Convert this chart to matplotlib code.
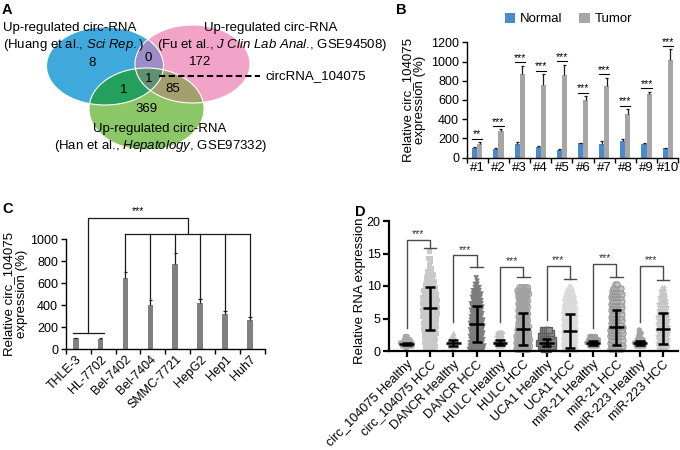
import numpy as np
import matplotlib
matplotlib.use("Agg")
import matplotlib.pyplot as plt
from matplotlib.patches import Ellipse, Polygon

plt.rcParams['font.family'] = ['Liberation Sans', 'DejaVu Sans']
plt.rcParams['mathtext.fontset'] = 'custom'
plt.rcParams['mathtext.rm'] = 'Liberation Sans'
plt.rcParams['mathtext.it'] = 'Liberation Sans:italic'
plt.rcParams['font.size'] = 9

# ---------------- data ----------------
# Panel A : Venn diagram region counts
venn_only = ["8", "172", "369"]        # Huang only, Fu only, Han only
venn_pairs = ["0", "1", "85"]          # Huang&Fu, Huang&Han, Fu&Han
venn_all = "1"

# Panel B : paired tissue samples
b_samples = ["#1", "#2", "#3", "#4", "#5", "#6", "#7", "#8", "#9", "#10"]
b_normal = [100, 94, 142, 111, 83, 149, 146, 177, 146, 97]
b_normal_err = [8, 8, 18, 10, 8, 8, 24, 13, 10, 5]
b_tumor = [146, 277, 870, 756, 863, 603, 745, 454, 665, 1016]
b_tumor_err = [17, 18, 87, 114, 104, 38, 87, 52, 21, 111]
b_sig = ["**", "***", "***", "***", "***", "***", "***", "***", "***", "***"]

# Panel C : cell lines
c_lines = ["THLE-3", "HL-7702", "Bel-7402", "Bel-7404", "SMMC-7721", "HepG2", "Hep1", "Huh7"]
c_values = [100, 95, 651, 405, 775, 418, 324, 266]
c_err = [5, 5, 49, 45, 98, 42, 27, 31]

# Panel D : serum RNA expression
d_groups = ["circ_104075 Healthy", "circ_104075 HCC", "DANCR Healthy", "DANCR HCC",
            "HULC Healthy", "HULC HCC", "UCA1 Healthy", "UCA1 HCC",
            "miR-21 Healthy", "miR-21 HCC", "miR-223 Healthy", "miR-223 HCC"]
d_mean = [1.1, 6.6, 1.2, 4.15, 1.25, 3.4, 1.3, 3.1, 1.2, 3.65, 1.25, 3.45]
d_sd = [0.2, 3.3, 0.45, 2.8, 0.4, 2.4, 0.5, 2.6, 0.3, 2.7, 0.35, 2.4]
# number of points in successive 0.5-wide bins of expression (read from cloud widths)
d_counts = [
    [1, 6, 7, 4, 2],
    [5, 6, 6, 6, 6, 7, 7, 7, 7, 7, 8, 8, 8, 8, 8, 8, 8, 7, 7, 6, 5, 5, 4, 4, 3, 2, 1, 1, 2, 0, 1],
    [2, 4, 5, 3, 2, 1],
    [8, 8, 7, 7, 7, 7, 7, 7, 7, 7, 6, 6, 6, 6, 6, 5, 5, 5, 4, 3, 2, 1, 1],
    [0, 4, 5, 3, 3, 3],
    [7, 7, 7, 7, 7, 6, 6, 6, 5, 5, 5, 5, 5, 5, 5, 5, 5, 6, 6, 5],
    [3, 7, 8, 7, 6, 5, 4],
    [6, 6, 6, 6, 6, 6, 6, 6, 6, 6, 6, 6, 6, 6, 5, 5, 5, 4, 3, 2],
    [0, 5, 7, 6, 4],
    [7, 7, 7, 7, 7, 7, 7, 7, 6, 6, 6, 6, 6, 6, 6, 6, 6, 6, 5, 5, 2],
    [0, 5, 6, 4, 2, 2, 1],
    [5, 6, 6, 6, 6, 6, 6, 6, 6, 6, 6, 5, 5, 5, 5, 4, 4, 3, 3, 2],
]
d_brk_left = [3.5, 4.5, 4.5, 4.7, 3.6, 4.4]
d_brk_top = [17.1, 14.7, 12.95, 13.1, 13.45, 13.1]
d_brk_right = [15.85, 12.9, 11.45, 11.1, 11.35, 10.85]

# ---------------- figure ----------------
W, H = 680, 450
fig = plt.figure(figsize=(6.8, 4.5), dpi=100)

def frac(x0, y0, x1, y1):
    return [x0 / W, 1 - y1 / H, (x1 - x0) / W, (y1 - y0) / H]

# ----- Panel A -----
axA = fig.add_axes([0, 0, 1, 1])
axA.set_xlim(0, W); axA.set_ylim(H, 0); axA.axis('off'); axA.patch.set_visible(False)
blue_e = ((105, 66), 117, 78)
pink_e = ((192.5, 64), 115, 78)
green_e = ((146.5, 109), 115, 82)
c_blue, c_pink, c_green = '#3fa9dc', '#f1a4c8', '#8bc766'
c_bp, c_bg, c_pg, c_all = '#9c8dc7', '#24a05d', '#a39f6e', '#5f9174'

def ell(e, **kw):
    return Ellipse(e[0], e[1], e[2], transform=axA.transData, **kw)

for e, c in [(blue_e, c_blue), (pink_e, c_pink), (green_e, c_green)]:
    axA.add_patch(ell(e, fc=c, ec='none'))
for e, clip, c in [(pink_e, blue_e, c_bp), (green_e, blue_e, c_bg), (green_e, pink_e, c_pg)]:
    p = ell(e, fc=c, ec='none')
    axA.add_patch(p)
    p.set_clip_path(ell(clip))

def ell_pts(e, n=600):
    t = np.linspace(0, 2 * np.pi, n, endpoint=False)
    return np.c_[e[0][0] + e[1] / 2 * np.cos(t), e[0][1] + e[2] / 2 * np.sin(t)]

def inside(p, e):
    return ((p[:, 0] - e[0][0]) / (e[1] / 2)) ** 2 + ((p[:, 1] - e[0][1]) / (e[2] / 2)) ** 2 <= 1

pp, gp = ell_pts(pink_e), ell_pts(green_e)
pts = np.vstack([pp[inside(pp, green_e)], gp[inside(gp, pink_e)]])
cen = pts.mean(0)
pts = pts[np.argsort(np.arctan2(pts[:, 1] - cen[1], pts[:, 0] - cen[0]))]
tri = Polygon(pts, closed=True, fc=c_all, ec='none')
axA.add_patch(tri)
tri.set_clip_path(ell(blue_e))
for e in [blue_e, pink_e, green_e]:
    axA.add_patch(ell(e, fc='none', ec='white', lw=0.8))

vfs = 9.5
axA.text(92, 63, venn_only[0], ha='center', va='center', fontsize=vfs)
axA.text(200, 62, venn_only[1], ha='center', va='center', fontsize=vfs)
axA.text(147, 109, venn_only[2], ha='center', va='center', fontsize=vfs)
axA.text(148, 58, venn_pairs[0], ha='center', va='center', fontsize=vfs)
axA.text(124, 90, venn_pairs[1], ha='center', va='center', fontsize=vfs)
axA.text(173, 89, venn_pairs[2], ha='center', va='center', fontsize=vfs)
axA.text(149, 79, venn_all, ha='center', va='center', fontsize=vfs)

axA.text(3, 28, "Up-regulated circ-RNA", ha='left', va='center', fontsize=vfs)
axA.text(3, 45, r"(Huang et al., $\it{Sci\ Rep.}$)", ha='left', va='center', fontsize=vfs)
axA.text(204, 28, "Up-regulated circ-RNA", ha='left', va='center', fontsize=vfs)
axA.text(157, 45, r"(Fu et al., $\it{J\ Clin\ Lab\ Anal}$., GSE94508)", ha='left', va='center', fontsize=vfs)
axA.text(93, 129, "Up-regulated circ-RNA", ha='left', va='center', fontsize=vfs)
axA.text(54, 146, r"(Han et al., $\it{Hepatology}$, GSE97332)", ha='left', va='center', fontsize=vfs)
axA.plot([159, 260], [76, 76], color='black', lw=1.5, ls=(0, (3, 1.6)))
axA.text(266, 76, "circRNA_104075", ha='left', va='center', fontsize=vfs)

for lab, x, y in [("A", 2, 3), ("B", 396, 3), ("C", 2, 202), ("D", 355, 205)]:
    fig.text(x / W, 1 - y / H, lab, ha='left', va='top', fontsize=10.5, fontweight='bold')

def style_axes(ax, lw=1.0):
    for s in ['top', 'right']:
        ax.spines[s].set_visible(False)
    for s in ['left', 'bottom']:
        ax.spines[s].set_linewidth(lw)
    ax.tick_params(direction='out', length=3.5, width=lw, labelsize=9, pad=2)

# ----- Panel B -----
axB = fig.add_axes(frac(466.7, 42.3, 678.3, 157.7))
style_axes(axB)
xb = np.arange(len(b_samples))
bw = 0.24
axB.bar(xb - bw / 2, b_normal, bw, color='#4c8bcb', label='Normal')
axB.bar(xb + bw / 2, b_tumor, bw, color='#a6a6a6', label='Tumor')
for xs, v, e in [(xb - bw / 2, b_normal, b_normal_err), (xb + bw / 2, b_tumor, b_tumor_err)]:
    v, e = np.array(v), np.array(e)
    axB.vlines(xs, v, v + e, color='#1a1a1a', lw=0.9)
    axB.hlines(v + e, xs - 0.07, xs + 0.07, color='#1a1a1a', lw=0.9)
for i, s in enumerate(b_sig):
    top = max(b_normal[i] + b_normal_err[i], b_tumor[i] + b_tumor_err[i]) + 35
    axB.plot([i - bw, i + bw], [top, top], color='black', lw=0.8, clip_on=False)
    axB.text(i, top - 8, s, ha='center', va='bottom', fontsize=7.5, clip_on=False)
axB.set_ylim(0, 1200)
axB.set_yticks(range(0, 1201, 200))
axB.set_xlim(-0.5, len(b_samples) - 0.5)
axB.set_xticks(np.arange(-0.5, len(b_samples)))
axB.set_xticklabels([])
axB.set_xticks(xb, minor=True)
axB.set_xticklabels(b_samples, minor=True, fontsize=9.5)
axB.tick_params(axis='x', which='minor', length=0, pad=3)
axB.set_ylabel("Relative circ_104075\nexpression (%)", fontsize=9.5, linespacing=1.1)
axB.yaxis.set_label_coords(-0.19, 0.5)
axB.legend(loc='lower center', bbox_to_anchor=(0.48, 1.1), ncol=2, frameon=False,
           fontsize=9.5, handlelength=0.8, handleheight=0.8, handletextpad=0.35,
           columnspacing=1.3, borderaxespad=0)

# ----- Panel C -----
axC = fig.add_axes(frac(65.7, 239.3, 265, 349.3))
style_axes(axC)
xc = np.arange(len(c_lines)) - 0.1
axC.bar(xc, c_values, 0.23, color='#808080')
cv, ce = np.array(c_values), np.array(c_err)
axC.vlines(xc, cv, cv + ce, color='#1a1a1a', lw=0.9)
axC.hlines(cv + ce, xc - 0.07, xc + 0.07, color='#1a1a1a', lw=0.9)
axC.set_ylim(0, 1000)
axC.set_yticks(range(0, 1001, 200))
axC.set_xlim(-0.5, len(c_lines) - 0.5)
axC.set_xticks(np.arange(-0.5, len(c_lines)))
axC.set_xticklabels([])
axC.set_xticks(xc, minor=True)
axC.set_xticklabels(c_lines, minor=True, rotation=45, ha='right', rotation_mode='anchor', fontsize=9)
axC.tick_params(axis='x', which='minor', length=0, pad=3)
axC.set_ylabel("Relative circ_104075\nexpression (%)", fontsize=9.5, linespacing=1.1)
axC.yaxis.set_label_coords(-0.19, 0.5)
lk = dict(color='#1a1a1a', lw=0.9, clip_on=False)
y_small, y_top, y_inner = 151, 1196, 1048
left_c = (xc[0] + xc[1]) / 2
right_c = (xc[2] + xc[-1]) / 2
axC.plot([xc[0] - 0.12, xc[1] + 0.12], [y_small, y_small], **lk)
axC.plot([left_c, left_c, right_c, right_c], [y_small, y_top, y_top, y_inner], **lk)
axC.plot([xc[2], xc[-1]], [y_inner, y_inner], **lk)
for i in range(2, len(c_lines)):
    axC.plot([xc[i], xc[i]], [y_inner, cv[i] + ce[i] + 8], **lk)
axC.text((left_c + right_c) / 2, y_top + 12, "***", ha='center', va='bottom', fontsize=7.5)

# ----- Panel D -----
axD = fig.add_axes(frac(389, 221, 678, 351))
style_axes(axD, lw=1.6)
axD.tick_params(length=4)
styles = [
    dict(marker='o', s=14, facecolors='#a9a9a9', edgecolors='none'),
    dict(marker='s', s=14, facecolors='#c9c9c9', edgecolors='none'),
    dict(marker='^', s=16, facecolors='#c6c6c6', edgecolors='none'),
    dict(marker='v', s=16, facecolors='#7d7d7d', edgecolors='none'),
    dict(marker='D', s=11, facecolors='#c4c4c4', edgecolors='none'),
    dict(marker='o', s=16, facecolors='none', edgecolors='#a2a2a2', linewidths=1.1),
    dict(marker='s', s=16, facecolors='#8a8a8a', edgecolors='#5e5e5e', linewidths=0.9),
    dict(marker='^', s=18, facecolors='none', edgecolors='#dadada', linewidths=1.1),
    dict(marker='h', s=16, facecolors='#9d9d9d', edgecolors='none'),
    dict(marker='o', s=15, facecolors='#c2c2c2', edgecolors='#8c8c8c', linewidths=0.6),
    dict(marker='o', s=14, facecolors='#a4a4a4', edgecolors='none'),
    dict(marker='*', s=22, facecolors='#c4c4c4', edgecolors='none'),
]
bin_h, dx = 0.5, 0.085
for gi, cnts in enumerate(d_counts):
    xs, ys = [], []
    for k, n in enumerate(cnts):
        if n == 0:
            continue
        off = (np.arange(n) - (n - 1) / 2) * dx + (0.02 if k % 2 else -0.02)
        xs.extend(gi + off)
        ys.extend([(k + 0.5) * bin_h] * n)
    axD.scatter(xs, ys, zorder=2, clip_on=False, **styles[gi])
for gi in range(len(d_groups)):
    m, s = d_mean[gi], d_sd[gi]
    axD.hlines(m, gi - 0.31, gi + 0.31, color='black', lw=1.8, zorder=4)
    axD.vlines(gi, m - s, m + s, color='black', lw=1.8, zorder=4)
    axD.hlines([m - s, m + s], gi - 0.21, gi + 0.21, color='black', lw=1.8, zorder=4)
bk = dict(color='#4a4a4a', lw=1.0, clip_on=False, zorder=5)
for p in range(6):
    xl, xr = 2 * p, 2 * p + 1
    axD.plot([xl, xl, xr, xr], [d_brk_left[p], d_brk_top[p], d_brk_top[p], d_brk_right[p]], **bk)
    axD.plot([xr - 0.27, xr + 0.27], [d_brk_right[p], d_brk_right[p]], **bk)
    axD.text((xl + xr) / 2, d_brk_top[p] + 0.05, "***", ha='center', va='bottom',
             fontsize=7.5, color='#333333')
axD.set_ylim(0, 20)
axD.set_yticks([0, 5, 10, 15, 20])
axD.set_xlim(-0.76, 11.64)
axD.set_xticks(np.arange(len(d_groups)))
axD.set_xticklabels(d_groups, rotation=45, ha='right', rotation_mode='anchor', fontsize=9.2)
axD.tick_params(axis='x', pad=1.5)
axD.set_ylabel("Relative RNA expression", fontsize=9.5)
axD.yaxis.set_label_coords(-0.08, 0.46)

fig.savefig("out.png", dpi=100)
